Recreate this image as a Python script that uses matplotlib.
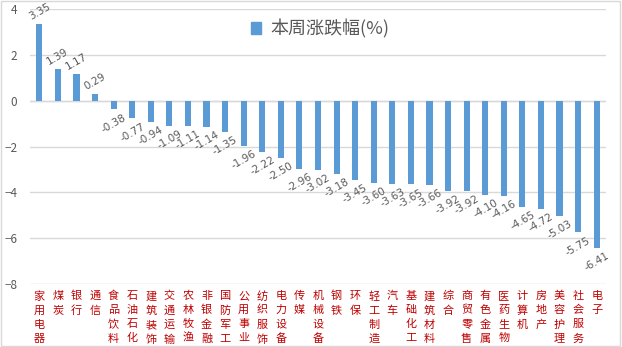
import matplotlib
matplotlib.use("Agg")
import matplotlib.pyplot as plt
from matplotlib.patches import Rectangle, Patch

plt.rcParams['font.family'] = ['Noto Sans CJK SC', 'DejaVu Sans']
plt.rcParams['axes.unicode_minus'] = True

categories = ["家用电器", "煤炭", "银行", "通信", "食品饮料", "石油石化", "建筑装饰", "交通运输",
              "农林牧渔", "非银金融", "国防军工", "公用事业", "纺织服饰", "电力设备", "传媒", "机械设备",
              "钢铁", "环保", "轻工制造", "汽车", "基础化工", "建筑材料", "综合", "商贸零售",
              "有色金属", "医药生物", "计算机", "房地产", "美容护理", "社会服务", "电子"]
values = [3.35, 1.39, 1.17, 0.29, -0.38, -0.77, -0.94, -1.09,
          -1.11, -1.14, -1.35, -1.96, -2.22, -2.50, -2.96, -3.02,
          -3.18, -3.45, -3.60, -3.63, -3.65, -3.66, -3.92, -3.92,
          -4.10, -4.16, -4.65, -4.72, -5.03, -5.75, -6.41]
series_name = "本周涨跌幅(%)"
yticks = [-8, -6, -4, -2, 0, 2, 4]

bar_color = "#5B9BD5"
grid_color = "#D9D9D9"
text_gray = "#595959"
label_red = "#C00000"

fig = plt.figure(figsize=(6.22, 3.47), dpi=100)
ax = fig.add_axes([30/622, 1-284/347, 576/622, 275/347])

x = list(range(len(categories)))
ax.bar(x, values, width=0.33, color=bar_color, zorder=3)

ax.set_xlim(-0.5, len(categories) - 0.5)
ax.set_ylim(-8, 4)
ax.set_yticks(yticks)
ax.set_yticklabels([f"{t}".replace("-", "\u2212") for t in yticks])
ax.yaxis.grid(True, color=grid_color, linewidth=1, zorder=0)
ax.axhline(0, color=grid_color, linewidth=1, zorder=1)
for s in ax.spines.values():
    s.set_visible(False)
ax.tick_params(axis='y', length=0, pad=9, labelsize=8.5, labelcolor=text_gray)
ax.tick_params(axis='x', length=0, pad=5)
ax.set_xticks(x)
ax.set_xticklabels(["\n".join(c) for c in categories], fontsize=8, color=label_red,
                   linespacing=1.5, va='top', rotation=0)

for xi, v in zip(x, values):
    off = 9 if v >= 0 else -10
    ax.annotate(f"{v:.2f}", (xi, v), xytext=(0, off), textcoords='offset points',
                ha='center', va='center', rotation=30, fontsize=7.5, color=text_gray,
                family=['DejaVu Sans'], annotation_clip=False)

leg = fig.legend(handles=[Patch(color=bar_color, label=series_name)], loc='center',
                 bbox_to_anchor=(320/622, 1-29/347), frameon=False, fontsize=13,
                 handlelength=0.6, handleheight=0.6, handletextpad=0.5, labelcolor=text_gray)

fig.patches.append(Rectangle((0.002, 0.003), 0.995, 0.994, transform=fig.transFigure,
                             fill=False, edgecolor=grid_color, linewidth=1))

fig.savefig("out.png", dpi=100)
